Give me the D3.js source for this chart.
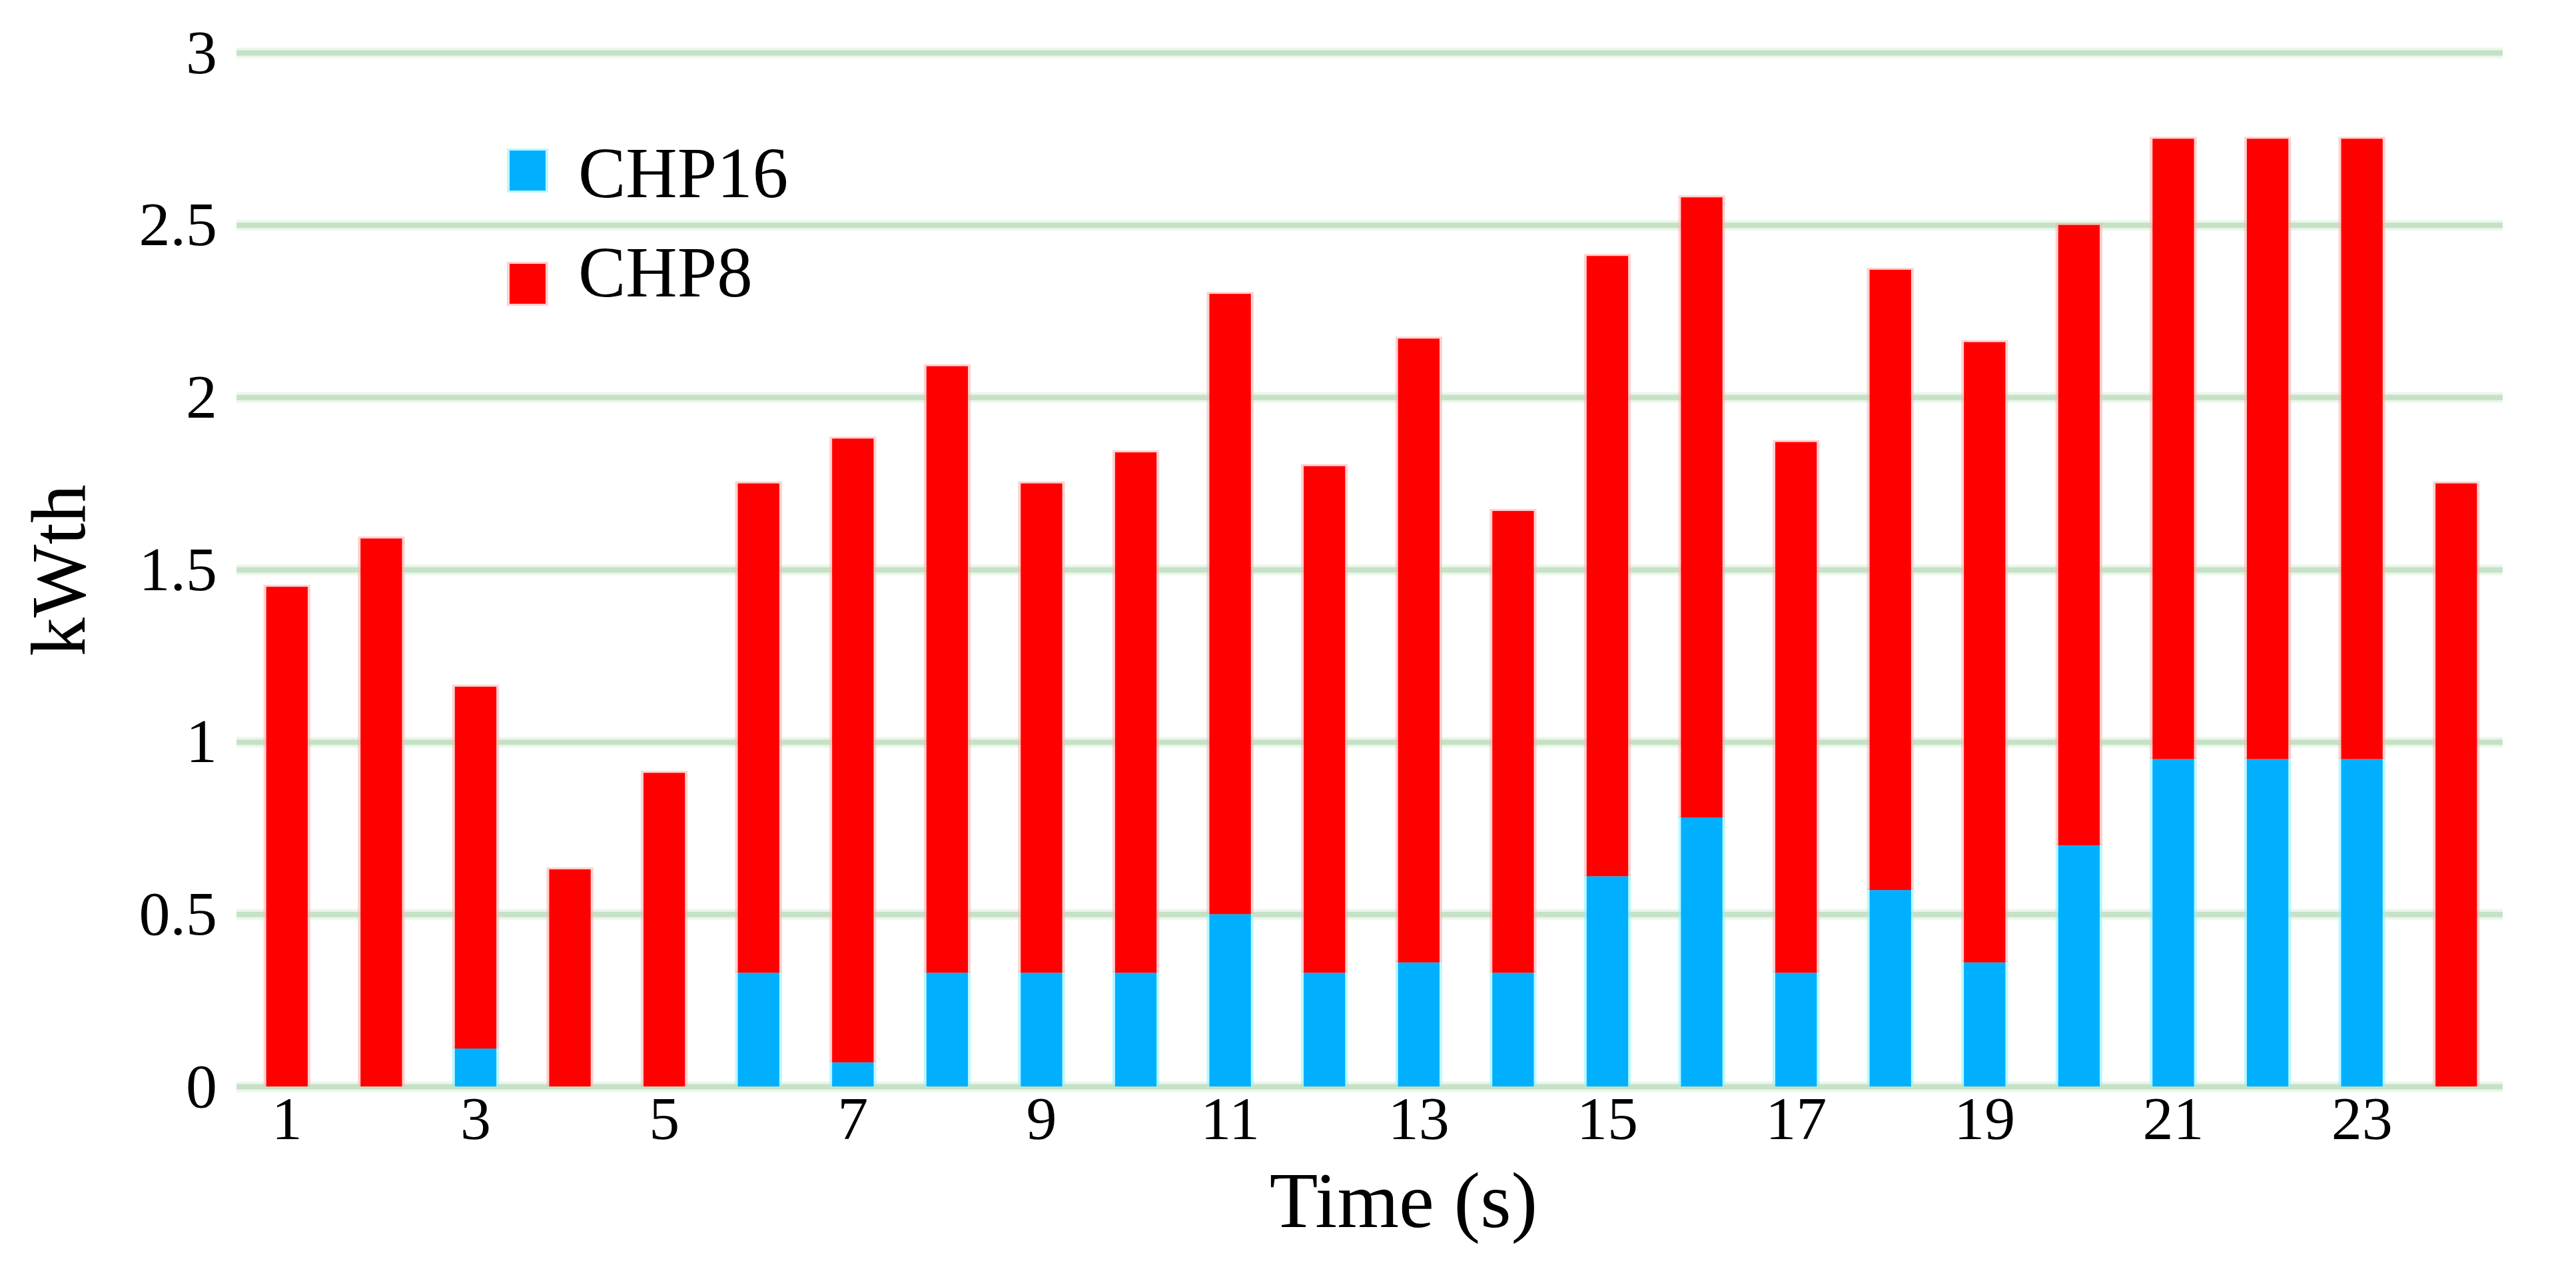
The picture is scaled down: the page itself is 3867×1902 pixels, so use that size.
<!DOCTYPE html>
<html>
<head>
<meta charset="utf-8">
<script src="https://cdn.jsdelivr.net/npm/d3@7"></script>
<style>
  html, body { margin: 0; padding: 0; background: #ffffff; }
  svg { display: block; }
  text { font-family: "Liberation Serif", "Times New Roman", serif; fill: #000; }
</style>
</head>
<body>
<script>
// ---- data ----
const categories = [1,2,3,4,5,6,7,8,9,10,11,12,13,14,15,16,17,18,19,20,21,22,23,24];
const chp16 = [0,0,0.11,0,0,0.33,0.07,0.33,0.33,0.33,0.50,0.33,0.36,0.33,0.61,0.78,0.33,0.57,0.36,0.70,0.95,0.95,0.95,0];
const chp8  = [1.45,1.59,1.05,0.63,0.91,1.42,1.81,1.76,1.42,1.51,1.80,1.47,1.81,1.34,1.80,1.80,1.54,1.80,1.80,1.80,1.80,1.80,1.80,1.75];
const seriesNames = ["CHP16", "CHP8"];
const seriesColors = ["#00b0ff", "#ff0000"];
const haloColors = ["#8ff4ff", "#ffb3b3"];
const yTicks = [0, 0.5, 1, 1.5, 2, 2.5, 3];
const yTickLabels = ["0", "0.5", "1", "1.5", "2", "2.5", "3"];
const xTickValues = [1,3,5,7,9,11,13,15,17,19,21,23];
const xTitle = "Time (s)";
const yTitle = "kWth";

// ---- layout ----
const W = 3867, H = 1902;
const gridX0 = 355, gridX1 = 3757;
const svg = d3.select("body").append("svg").attr("width", W).attr("height", H);

const x = d3.scaleBand().domain(categories).range([360, 3758]).paddingInner(0.56).paddingOuter(0.28);
const y = d3.scaleLinear().domain([0, 3]).range([1631, 79]);

// gridlines (halo + core)
const gridHalo = svg.append("g").attr("transform", `translate(${gridX0},0)`)
  .call(d3.axisLeft(y).tickValues(yTicks).tickSize(-(gridX1 - gridX0)).tickFormat(""));
gridHalo.select(".domain").remove();
gridHalo.selectAll("line").attr("stroke", "#eaf7ea").attr("stroke-width", 16);

const yAxis = svg.append("g").attr("transform", `translate(${gridX0},0)`)
  .call(d3.axisLeft(y).tickValues(yTicks).tickSize(-(gridX1 - gridX0)).tickPadding(29)
    .tickFormat((d, i) => yTickLabels[i]));
yAxis.select(".domain").remove();
yAxis.selectAll("line").attr("stroke", "#c6e2c6").attr("stroke-width", 8);
yAxis.selectAll("text").attr("font-size", 94).attr("font-family", "Liberation Serif").attr("fill", "#000");

// stacked data
const rows = categories.map((c, i) => ({ cat: c, CHP16: chp16[i], CHP8: chp8[i] }));
const stack = d3.stack().keys(seriesNames)(rows);

// halos
stack.forEach((layer, li) => {
  svg.append("g").selectAll("rect").data(layer.filter(d => d[1] - d[0] > 0)).join("rect")
    .attr("x", d => x(d.data.cat) - 4)
    .attr("width", x.bandwidth() + 8)
    .attr("y", d => y(d[1]) - 3)
    .attr("height", d => y(d[0]) - y(d[1]) + 3)
    .attr("fill", haloColors[li])
    .attr("opacity", 0.6);
});
// bars
stack.forEach((layer, li) => {
  svg.append("g").selectAll("rect").data(layer.filter(d => d[1] - d[0] > 0)).join("rect")
    .attr("x", d => x(d.data.cat))
    .attr("width", x.bandwidth())
    .attr("y", d => y(d[1]))
    .attr("height", d => y(d[0]) - y(d[1]))
    .attr("fill", seriesColors[li]);
});

// x axis labels
const xAxis = svg.append("g").attr("transform", `translate(0,${y(0)})`)
  .call(d3.axisBottom(x).tickValues(xTickValues).tickSize(0));
xAxis.select(".domain").remove();
xAxis.selectAll("text").attr("font-size", 92).attr("font-family", "Liberation Serif")
  .attr("fill", "#000").attr("y", 79).attr("dy", 0);

// axis titles
svg.append("text").attr("x", 2107).attr("y", 1842).attr("text-anchor", "middle")
  .attr("font-size", 119).text(xTitle);
svg.append("text").attr("transform", "translate(127,985) rotate(-90)")
  .attr("text-anchor", "start").attr("font-size", 116).text(yTitle);

// legend
const legendY = [226, 396];
const legendBase = [296, 445];
seriesNames.forEach((name, i) => {
  svg.append("rect").attr("x", 761).attr("y", legendY[i] - 3).attr("width", 62).attr("height", 66)
    .attr("fill", haloColors[i]).attr("opacity", 0.6);
  svg.append("rect").attr("x", 765).attr("y", legendY[i]).attr("width", 54).attr("height", 60)
    .attr("fill", seriesColors[i]);
  svg.append("text").attr("x", 868).attr("y", legendBase[i]).attr("font-size", 107).text(name);
});
</script>
</body>
</html>
